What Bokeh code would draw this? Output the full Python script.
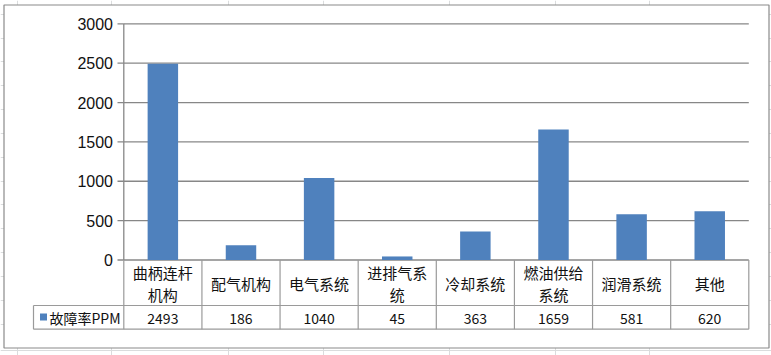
import numpy as np
from bokeh.plotting import figure
from bokeh.models import Range1d
from bokeh.core.properties import value
from bokeh.embed import file_html
from bokeh.resources import INLINE

# ---- data ----
categories = ["曲柄连杆机构", "配气机构", "电气系统", "进排气系统", "冷却系统", "燃油供给系统", "润滑系统", "其他"]
failure_ppm = [2493, 186, 1040, 45, 363, 1659, 581, 620]
y_ticks = [0, 500, 1000, 1500, 2000, 2500, 3000]
series_name = "故障率PPM"

# ---- layout (pixel geometry of the Excel-like chart) ----
W, H = 771, 355
AX_LEFT = 123.3
COL_W = 78.125
Y0_PX = 259.5
PX_PER_UNIT = (259.5 - 23.3) / 3000.0


def dx(px):
    return (px - AX_LEFT) / COL_W


def dy(py):
    return (Y0_PX - py) / PX_PER_UNIT


n = len(categories)
centers = np.arange(n) + 0.5

p = figure(width=W, height=H, output_backend="svg", toolbar_location=None,
           x_range=Range1d(dx(0), dx(W)), y_range=Range1d(dy(H), dy(0)),
           x_axis_type=None, y_axis_type=None,
           min_border=0, min_border_left=0, min_border_right=0,
           min_border_top=0, min_border_bottom=0)
p.grid.visible = False
p.outline_line_color = None
p.background_fill_color = "white"
p.border_fill_color = "white"

# spreadsheet cell grid behind the chart
sheet_cols = [17, 111, 228, 323, 449, 555, 649]
sheet_rows = [14, 38, 61, 85, 109, 133, 157, 181, 204, 228, 252, 276, 300, 324, 350]
p.segment(x0=[dx(c) for c in sheet_cols], x1=[dx(c) for c in sheet_cols],
          y0=dy(0), y1=dy(H), line_color="#dadcdd", line_width=1)
p.segment(x0=dx(0), x1=dx(W), y0=[dy(r) for r in sheet_rows], y1=[dy(r) for r in sheet_rows],
          line_color="#dadcdd", line_width=1)

# chart area
p.quad(left=dx(3.5), right=dx(768.5), top=dy(4.5), bottom=dy(347.5),
       fill_color="white", line_color="#8a8a8a", line_width=1.2)

# gridlines and y axis
p.segment(x0=0, x1=n, y0=y_ticks, y1=y_ticks, line_color="#878787", line_width=1.3)
p.segment(x0=dx(117), x1=0, y0=y_ticks, y1=y_ticks, line_color="#878787", line_width=1.3)
p.segment(x0=0, x1=0, y0=0, y1=max(y_ticks), line_color="#878787", line_width=1.3)
p.text(x=dx(112.5), y=y_ticks, text=[str(t) for t in y_ticks],
       text_align="right", text_baseline="middle",
       text_font=value("Liberation Sans"), text_font_size="16px", text_color="#111111")

# bars
p.vbar(x=centers, top=failure_ppm, bottom=0, width=0.39,
       fill_color="#4f81bd", line_color=None)

# data table
tbl_color = "#9a9a9a"
row1_bottom = dy(305)
row2_bottom = dy(328.7)
leg_left = dx(33)
p.segment(x0=leg_left, x1=n, y0=[row1_bottom, row2_bottom], y1=[row1_bottom, row2_bottom],
          line_color=tbl_color, line_width=1.2)
bounds = np.arange(n + 1)
p.segment(x0=bounds, x1=bounds, y0=0, y1=row2_bottom, line_color=tbl_color, line_width=1.2)
p.segment(x0=leg_left, x1=leg_left, y0=row1_bottom, y1=row2_bottom, line_color=tbl_color, line_width=1.2)


def wrap(s, k=4):
    return "\n".join(s[i:i + k] for i in range(0, len(s), k))


p.text(x=centers, y=dy(283), text=[wrap(c) for c in categories],
       text_align="center", text_baseline="middle", text_line_height=1.02,
       text_font=value("Noto Sans CJK SC"), text_font_size="15px", text_color="#111111")
p.text(x=centers, y=dy(317.5), text=[str(v) for v in failure_ppm],
       text_align="center", text_baseline="middle",
       text_font=value("Noto Sans CJK SC"), text_font_size="14px", text_color="#111111")

# legend key inside table
p.scatter(x=[dx(43)], y=[dy(316.5)], marker="square", size=7,
          fill_color="#4f81bd", line_color=None)
p.text(x=[dx(49)], y=[dy(317)], text=[series_name],
       text_align="left", text_baseline="middle",
       text_font=value("Noto Sans CJK SC"), text_font_size="14px", text_color="#111111")

open("out.html", "w").write(file_html(p, INLINE))
